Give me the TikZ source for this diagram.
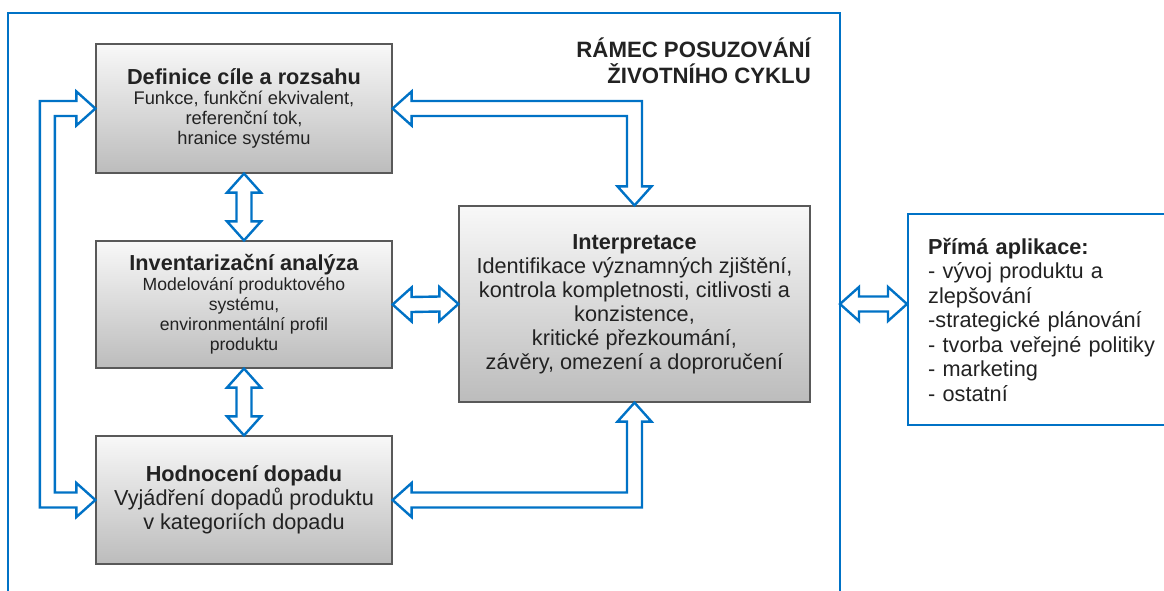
\documentclass[tikz,border=0pt]{standalone}
\usepackage{fontspec}
\setmainfont{Liberation Sans}
\usetikzlibrary{calc}
\definecolor{lcablue}{RGB}{0,114,198}
\definecolor{txtgray}{RGB}{34,34,34}
\definecolor{gtop}{RGB}{248,248,248}
\definecolor{gbot}{RGB}{188,188,188}
\tikzset{
  gbox/.style={draw=black!65, line width=1.2pt, top color=gtop, bottom color=gbot,
    align=center, text=txtgray, inner sep=0pt},
  frame/.style={draw=lcablue, line width=2.4pt},
  hollow/.style={draw=lcablue, fill=white, line width=2.4pt, line join=miter}
}
\newcommand{\phtitle}{\bfseries\fontsize{21.7}{24}\selectfont}
% hollow double arrows between two tips (vertical / horizontal)
\newcommand{\vdarrow}[2]{%
  \draw[hollow] (#1) -- ++(17,19) -- ++(-9.5,0) -- ($(#2)+(7.5,-19)$) -- ++(9.5,0) -- (#2)
    -- ++(-17,-19) -- ++(9.5,0) -- ($(#1)+(-7.5,19)$) -- ++(-9.5,0) -- cycle;}
\newcommand{\hdarrow}[2]{%
  \draw[hollow] (#1) -- ++(19,-17) -- ++(0,9.5) -- ($(#2)+(-19,-7.5)$) -- ++(0,-9.5) -- (#2)
    -- ++(-19,17) -- ++(0,-9.5) -- ($(#1)+(19,7.5)$) -- ++(0,9.5) -- cycle;}
\begin{document}
\begin{tikzpicture}[x=1pt,y=-1pt]
  \clip (0,0) rectangle (1164,590);
  \fill[white] (0,0) rectangle (1164,590);

  % frame
  \coordinate (fTL) at (8,13);
  \coordinate (fBR) at (840,620);
  \draw[frame] (fTL) rectangle (fBR);
  \node[anchor=north east, align=right, inner sep=0pt, text=txtgray,
    font=\bfseries\fontsize{22.2}{26}\selectfont] (title) at (811,38)
    {RÁMEC POSUZOVÁNÍ\\ŽIVOTNÍHO CYKLU};

  % phases
  \node[gbox, minimum width=296pt, minimum height=129pt, font=\fontsize{18.3}{20}\selectfont]
    (def) at (244,108.5) {{\phtitle Definice cíle a rozsahu}\\Funkce, funkční ekvivalent,\\referenční tok,\\hranice systému};
  \node[gbox, minimum width=296pt, minimum height=127pt, font=\fontsize{17.6}{20}\selectfont]
    (inv) at (244,304.5) {{\phtitle Inventarizační analýza}\\Modelování produktového\\systému,\\environmentální profil\\produktu};
  \node[gbox, minimum width=296pt, minimum height=128pt, font=\fontsize{21.7}{24}\selectfont]
    (hod) at (244,500) {{\phtitle Hodnocení dopadu}\\Vyjádření dopadů produktu\\v kategoriích dopadu};
  \node[gbox, minimum width=351pt, minimum height=196pt, font=\fontsize{21.7}{24}\selectfont]
    (int) at (634.5,304) {{\phtitle Interpretace}\\Identifikace významných zjištění,\\kontrola kompletnosti, citlivosti a\\konzistence,\\kritické přezkoumání,\\závěry, omezení a doproručení};

  % applications
  \node[draw=lcablue, line width=2.4pt, anchor=north west, minimum height=211pt,
    text width=236pt, inner xsep=20pt, align=left, text=txtgray,
    font=\fontsize{21.7}{24.5}\selectfont] (app) at (907,213)
    {{\bfseries Přímá aplikace:}\\- vývoj produktu a\\zlepšování\\-strategické plánování\\- tvorba veřejné politiky\\- marketing\\- ostatní};

  % arrows
  \vdarrow{def.south}{inv.north}
  \vdarrow{inv.south}{hod.north}
  \hdarrow{inv.east}{int.west}
  \hdarrow{fBR |- int.east}{app.west |- int.east}

  \coordinate (cTop) at (int.north |- def.east);
  \draw[hollow] (def.east) -- ++(19,-17) -- ++(0,9.5) -- ($(cTop)+(7.5,-7.5)$)
    -- ($(int.north)+(7.5,-19)$) -- ++(9.5,0) -- (int.north) -- ++(-17,-19) -- ++(9.5,0)
    -- ($(cTop)+(-7.5,7.5)$) -- ($(def.east)+(19,7.5)$) -- ++(0,9.5) -- cycle;

  \coordinate (cBot) at (int.south |- hod.east);
  \draw[hollow] (hod.east) -- ++(19,-17) -- ++(0,9.5) -- ($(cBot)+(-7.5,-7.5)$)
    -- ($(int.south)+(-7.5,19)$) -- ++(-9.5,0) -- (int.south) -- ++(17,19) -- ++(-9.5,0)
    -- ($(cBot)+(7.5,7.5)$) -- ($(hod.east)+(19,7.5)$) -- ++(0,9.5) -- cycle;

  \draw[hollow] (def.west) -- ++(-19,-17) -- ++(0,9.5) -- ($(def.west)+(-55.5,-7.5)$)
    -- ($(hod.west)+(-55.5,7.5)$) -- ($(hod.west)+(-19,7.5)$) -- ++(0,9.5) -- (hod.west)
    -- ++(-19,-17) -- ++(0,9.5) -- ($(hod.west)+(-40.5,-7.5)$)
    -- ($(def.west)+(-40.5,7.5)$) -- ($(def.west)+(-19,7.5)$) -- ++(0,9.5) -- cycle;
\end{tikzpicture}
\end{document}
